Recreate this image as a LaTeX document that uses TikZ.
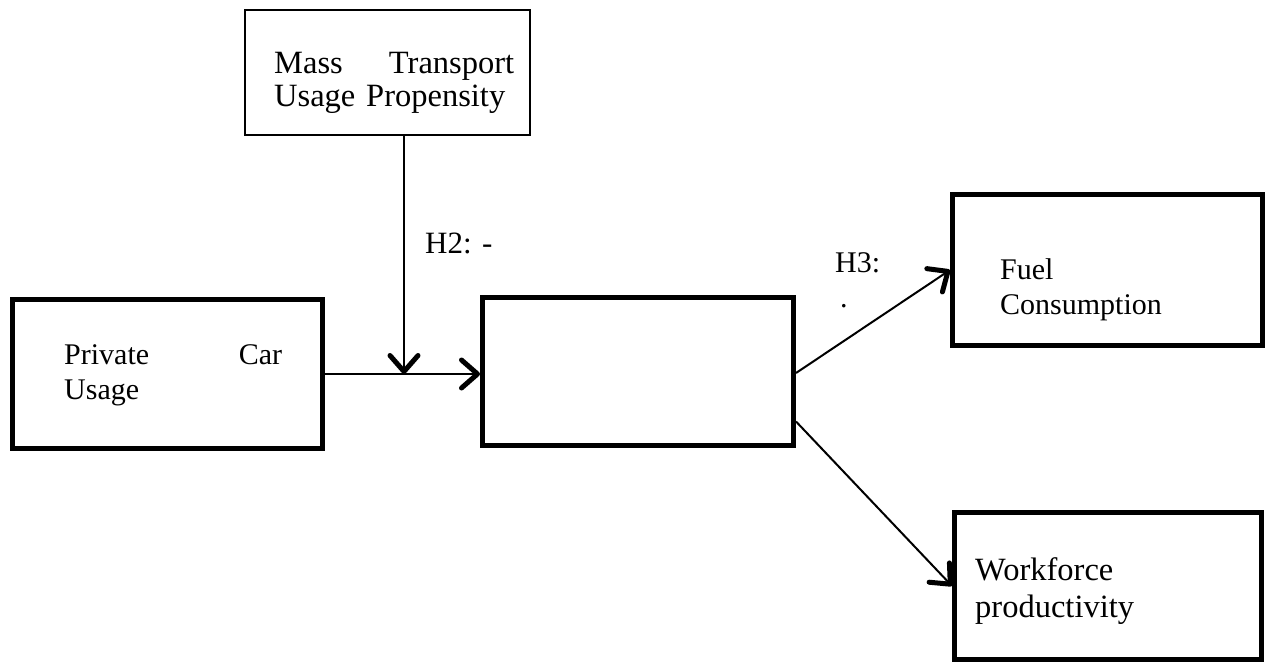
\documentclass[tikz,border=0pt]{standalone}
\usepackage{fontspec}
\setmainfont{Liberation Serif}
\usetikzlibrary{arrows.meta}
\tikzset{
  box/.style={draw, line width=5pt, inner sep=0pt},
  thinbox/.style={draw, line width=2pt, inner sep=0pt},
  txt/.style={anchor=north west, inner sep=0pt, align=left},
  lbl/.style={anchor=base west, inner sep=0pt},
  bigtxt/.style={font=\fontsize{32.5}{33}\selectfont},
  link/.style={line width=2pt, -{Straight Barb[length=16pt,width=28pt,line width=5pt,round]}}
}
\begin{document}
\begin{tikzpicture}[x=1pt, y=-1pt, every node/.style={font=\fontsize{30}{35}\selectfont}]
  \useasboundingbox (0,0) rectangle (1266,664);
  % boxes
  \node[thinbox, minimum width=285pt, minimum height=125pt] (mass) at (387.5,72.5) {};
  \node[box, minimum width=310pt, minimum height=149pt] (private) at (167.5,374) {};
  \node[box, minimum width=311pt, minimum height=148pt] (middle) at (638,371.5) {};
  \node[box, minimum width=310pt, minimum height=151pt] (fuel) at (1107.5,270) {};
  \node[box, minimum width=307pt, minimum height=147pt] (work) at (1108,586) {};
  % texts
  \node[txt, bigtxt, text width=240pt] (masstxt) at (274,52) {Mass\hfill Transport\\Usage Propensity};
  \node[txt, text width=218pt] (privtxt) at (64,344) {Private\hfill Car\\Usage};
  \node[txt, text width=200pt] (fueltxt) at (1000,258.5) {Fuel\\Consumption};
  \node[txt, bigtxt, text width=200pt, font=\fontsize{32.5}{37}\selectfont] (worktxt) at (975,557) {Workforce\\productivity};
  \node[lbl, font=\fontsize{31}{35}\selectfont] (h2) at (425,253) {H2: -};
  \node[lbl] (h3) at (835,272) {H3:};
  \node[lbl] (h3dot) at (840,307) {.};
  % arrows
  \coordinate (meet) at (404,374);
  \draw[link] (private.east) -- (private.east -| middle.west);
  \draw[link] (mass.south -| meet) -- (meet);
  \draw[link] ([yshift=-1.5pt]middle.east) -- (fuel.west);
  \draw[link] ([yshift=-50pt]middle.east) -- (work.west);
\end{tikzpicture}
\end{document}
